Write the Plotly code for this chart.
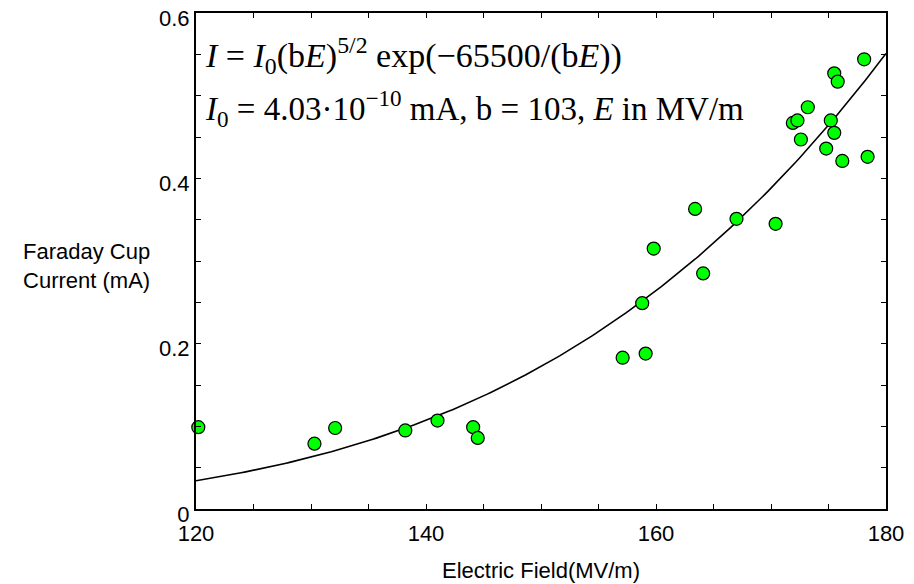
import numpy as np
import plotly.graph_objects as go

# Measured data (Electric field MV/m, Faraday cup current mA)
field = [120.2, 130.3, 132.1, 138.2, 141.0, 144.1, 144.5, 157.1, 158.8, 159.1,
         159.8, 163.4, 164.1, 167.0, 170.4, 171.9, 172.3, 172.6, 173.2, 174.8,
         175.2, 175.5, 175.5, 175.8, 176.2, 178.1, 178.4]
current = [0.099, 0.079, 0.098, 0.095, 0.107, 0.099, 0.086, 0.183, 0.249, 0.188,
           0.315, 0.363, 0.285, 0.351, 0.345, 0.467, 0.470, 0.447, 0.486, 0.436,
           0.470, 0.455, 0.527, 0.517, 0.421, 0.544, 0.426]

# Fit model parameters shown in the chart
I0 = 4.03e-10
b = 103.0
fit_E = np.linspace(120, 180, 200)
fit_I = I0 * (b * fit_E) ** 2.5 * np.exp(-65500.0 / (b * fit_E))

x_ticks = list(range(120, 181, 5))
x_labels = [str(v) if v % 20 == 0 else "" for v in x_ticks]
y_ticks = [round(0.05 * i, 2) for i in range(13)]
y_label_map = {0.0: "0", 0.2: "0.2", 0.4: "0.4", 0.6: "0.6"}
y_labels = [y_label_map.get(v, "") for v in y_ticks]

SANS = "Liberation Sans, Arial"
SERIF = "Liberation Serif, Times New Roman"

fig = go.Figure()
fig.add_trace(go.Scatter(x=fit_E, y=fit_I, mode="lines",
                         line=dict(color="black", width=1.6), showlegend=False,
                         hoverinfo="skip"))
fig.add_trace(go.Scatter(x=field, y=current, mode="markers",
                         marker=dict(size=13, color="#00ff00",
                                     line=dict(color="black", width=1.2)),
                         showlegend=False, cliponaxis=False))

axis_common = dict(showline=True, linecolor="black", linewidth=2, mirror="ticks",
                   ticks="inside", ticklen=5, tickwidth=1, tickcolor="black",
                   showgrid=False, zeroline=False, automargin=False,
                   ticklabeloverflow="allow",
                   tickfont=dict(family=SANS, size=22, color="black"))

fig.update_layout(
    width=906, height=576,
    margin=dict(l=188, r=28, t=5, b=75, autoexpand=False),
    paper_bgcolor="white", plot_bgcolor="white",
    xaxis=dict(range=[120, 180], tickvals=x_ticks, ticktext=x_labels,
               ticklabelstandoff=4, **axis_common),
    yaxis=dict(range=[0, 0.6], tickvals=y_ticks, ticktext=y_labels,
               ticklabelshift=5, **axis_common),
    annotations=[
        dict(text="Faraday Cup<br>Current (mA)", xref="paper", yref="paper",
             x=-0.158, y=0.49, xanchor="center", yanchor="middle",
             showarrow=False, align="center",
             font=dict(family=SANS, size=22, color="black")),
        dict(text="Electric Field(MV/m)", xref="paper", yref="paper",
             x=0.5, y=-0.123, xanchor="center", yanchor="middle", showarrow=False,
             font=dict(family=SANS, size=22, color="black")),
        dict(text="<i>I</i> = <i>I</i><sub>0</sub>(b<i>E</i>)<sup>5/2</sup> exp(−65500/(b<i>E</i>))",
             xref="paper", yref="paper", x=0.01, y=0.915, xanchor="left", yanchor="middle",
             showarrow=False,
             font=dict(family=SERIF, size=34, color="black")),
        dict(text="<i>I</i><sub>0</sub> = 4.03·10<sup>−10</sup> mA, b = 103, <i>E</i> in MV/m",
             xref="paper", yref="paper", x=0.01, y=0.808, xanchor="left", yanchor="middle",
             showarrow=False,
             font=dict(family=SERIF, size=33, color="black")),
    ],
)

fig.write_html("out.html")
